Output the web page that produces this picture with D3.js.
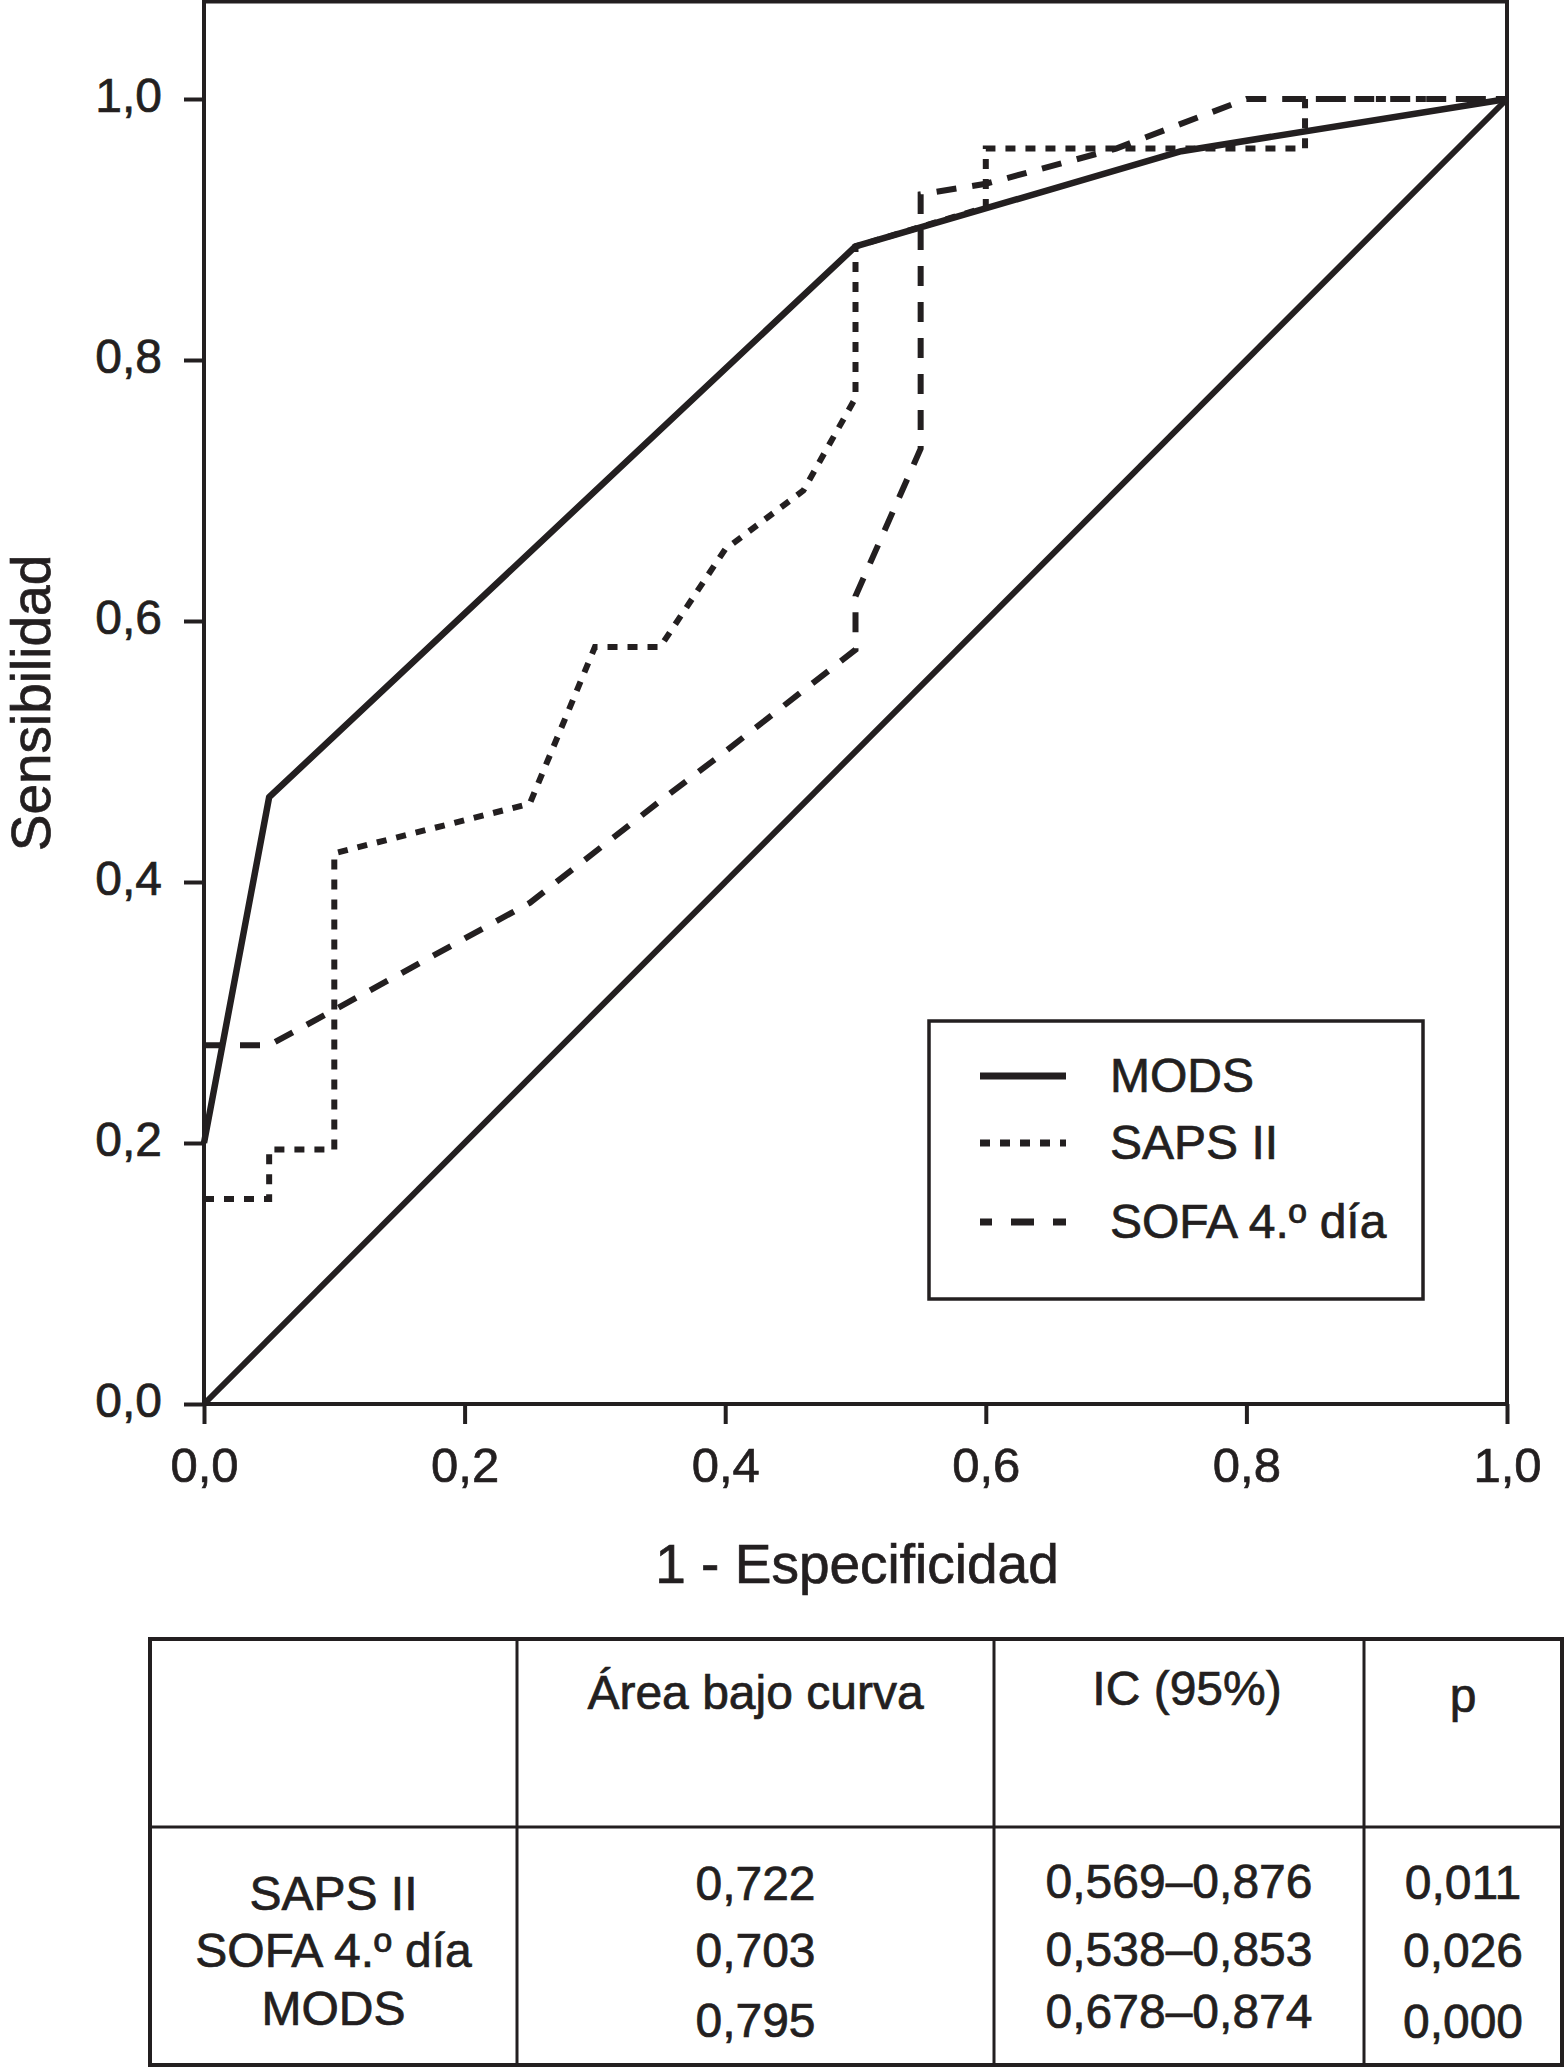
<!DOCTYPE html>
<html>
<head>
<meta charset="utf-8">
<script src="https://cdn.jsdelivr.net/npm/d3@7/dist/d3.min.js"></script>
<style>
  body { margin: 0; background: #fff; }
  svg { display: block; font-family: "Liberation Sans", Arial, Helvetica, sans-serif; }
  svg text { stroke: #231f20; stroke-width: 0.7px; }
</style>
</head>
<body>
<svg width="1564" height="2069"></svg>
<script>
// axis ticks (both axes)
var ticks = [0, 0.2, 0.4, 0.6, 0.8, 1.0];

// ROC curves
var modsX = [0, 0.05, 0.5, 0.75, 1];
var modsY = [0.2, 0.465, 0.887, 0.96, 1];

var sapsX = [0, 0.05, 0.05, 0.1, 0.1, 0.25, 0.3, 0.35, 0.4, 0.46, 0.5, 0.5, 0.6, 0.6, 0.845, 0.845, 1];
var sapsY = [0.157, 0.157, 0.195, 0.195, 0.422, 0.46, 0.58, 0.58, 0.655, 0.70, 0.771, 0.887, 0.917, 0.962, 0.962, 1, 1];

var sofaX = [0, 0.05, 0.1, 0.25, 0.35, 0.4, 0.5, 0.5, 0.55, 0.55, 0.6, 0.7, 0.8, 1];
var sofaY = [0.275, 0.275, 0.302, 0.384, 0.462, 0.5, 0.578, 0.619, 0.732, 0.927, 0.935, 0.962, 1, 1];

var refX = [0, 1];
var refY = [0, 1];

var seriesNames = ['MODS', 'SAPS II', 'SOFA 4.º día'];

// table below the chart
var tableHeader = ['', 'Área bajo curva', 'IC (95%)', 'p'];
var scoreNames = ['SAPS II', 'SOFA 4.º día', 'MODS'];
var auc = ['0,722', '0,703', '0,795'];
var ci = ['0,569–0,876', '0,538–0,853', '0,678–0,874'];
var pValues = ['0,011', '0,026', '0,000'];

var ink = '#231f20';
var svg = d3.select('svg');

var xScale = d3.scaleLinear().domain([0, 1]).range([204, 1507]);
var yScale = d3.scaleLinear().domain([0, 1]).range([1404, 99]);

var fmt = function(d) { return d.toFixed(1).replace('.', ','); };

function zip(xs, ys) {
    return xs.map(function(x, i) { return [x, ys[i]]; });
}

var line = d3.line()
    .x(function(d) { return xScale(d[0]); })
    .y(function(d) { return yScale(d[1]); });

// plot frame
svg.append('rect')
    .attr('x', 204).attr('y', 1.5)
    .attr('width', 1303).attr('height', 1402.5)
    .attr('fill', 'none')
    .attr('stroke', ink)
    .attr('stroke-width', 4);

var yAxis = d3.axisLeft(yScale).tickValues(ticks).tickFormat(fmt)
    .tickSize(20).tickSizeOuter(0).tickPadding(22);
var xAxis = d3.axisBottom(xScale).tickValues(ticks).tickFormat(fmt)
    .tickSize(20).tickSizeOuter(0).tickPadding(23);

var gy = svg.append('g')
    .attr('transform', 'translate(204,0)')
    .call(yAxis);
gy.selectAll('text').attr('font-size', 48).attr('dy', '0.25em');

var gx = svg.append('g')
    .attr('transform', 'translate(0,1404)')
    .call(xAxis);
gx.selectAll('text').attr('font-size', 49);

[gx, gy].forEach(function(g) {
    g.attr('font-family', null);
    g.select('.domain').remove();
    g.selectAll('line').attr('stroke', ink).attr('stroke-width', 4);
    g.selectAll('text').attr('fill', ink);
});

svg.append('text')
    .attr('x', 857).attr('y', 1583)
    .attr('text-anchor', 'middle')
    .attr('font-size', 55)
    .attr('fill', ink)
    .text('1 - Especificidad');

svg.append('text')
    .attr('transform', 'translate(50,703)rotate(-90)')
    .attr('text-anchor', 'middle')
    .attr('font-size', 55)
    .attr('fill', ink)
    .text('Sensibilidad');

// curves
svg.append('path')
    .attr('d', line(zip(refX, refY)))
    .attr('fill', 'none').attr('stroke', ink).attr('stroke-width', 6);

svg.append('path')
    .attr('d', line(zip(sofaX, sofaY)))
    .attr('fill', 'none').attr('stroke', ink).attr('stroke-width', 6)
    .attr('stroke-dasharray', '20,16');

svg.append('path')
    .attr('d', line(zip(sapsX, sapsY)))
    .attr('fill', 'none').attr('stroke', ink).attr('stroke-width', 6)
    .attr('stroke-dasharray', '10,10');

svg.append('path')
    .attr('d', line(zip(modsX, modsY)))
    .attr('fill', 'none').attr('stroke', ink).attr('stroke-width', 6.5)
    .attr('stroke-linejoin', 'round');

// legend
var legend = svg.append('g').attr('transform', 'translate(929,1021)');
legend.append('rect')
    .attr('width', 494).attr('height', 278)
    .attr('fill', '#fff')
    .attr('stroke', ink).attr('stroke-width', 3.5);

var legendDash = [null, '10,10', '23,19'];
var legendOffset = [0, 0, 11];
var legendRowY = [55, 122, 201];

seriesNames.forEach(function(name, i) {
    legend.append('line')
        .attr('x1', 51).attr('x2', 137)
        .attr('y1', legendRowY[i]).attr('y2', legendRowY[i])
        .attr('stroke', ink).attr('stroke-width', 7)
        .attr('stroke-dasharray', legendDash[i])
        .attr('stroke-dashoffset', legendOffset[i]);
    legend.append('text')
        .attr('x', 181).attr('y', legendRowY[i] + 16)
        .attr('font-size', 48)
        .attr('fill', ink)
        .text(name);
});

// table
var colEdges = [150, 517, 994, 1364, 1562];
var rowEdges = [1639, 1827, 2065];

var table = svg.append('g');
table.append('rect')
    .attr('x', colEdges[0]).attr('y', rowEdges[0])
    .attr('width', colEdges[4] - colEdges[0])
    .attr('height', rowEdges[2] - rowEdges[0])
    .attr('fill', 'none').attr('stroke', ink).attr('stroke-width', 4);

colEdges.slice(1, 4).forEach(function(x) {
    table.append('line')
        .attr('x1', x).attr('x2', x)
        .attr('y1', rowEdges[0]).attr('y2', rowEdges[2])
        .attr('stroke', ink).attr('stroke-width', 3);
});
table.append('line')
    .attr('x1', colEdges[0]).attr('x2', colEdges[4])
    .attr('y1', rowEdges[1]).attr('y2', rowEdges[1])
    .attr('stroke', ink).attr('stroke-width', 3);

var colCenter = function(i) { return (colEdges[i] + colEdges[i + 1]) / 2; };
var headerBaseline = [1709, 1709, 1705, 1712];

tableHeader.forEach(function(h, i) {
    table.append('text')
        .attr('x', colCenter(i) + (i === 2 ? 8 : 0)).attr('y', headerBaseline[i])
        .attr('text-anchor', 'middle')
        .attr('font-size', 48).attr('fill', ink)
        .text(h);
});

var columns = [scoreNames, auc, ci, pValues];
var cellBaselines = [
    [1910, 1967, 2025],
    [1900, 1967, 2037],
    [1898, 1966, 2028],
    [1899, 1967, 2038]
];

columns.forEach(function(col, i) {
    col.forEach(function(v, j) {
        table.append('text')
            .attr('x', colCenter(i)).attr('y', cellBaselines[i][j])
            .attr('text-anchor', 'middle')
            .attr('font-size', 48).attr('fill', ink)
            .text(v);
    });
});
</script>
</body>
</html>
